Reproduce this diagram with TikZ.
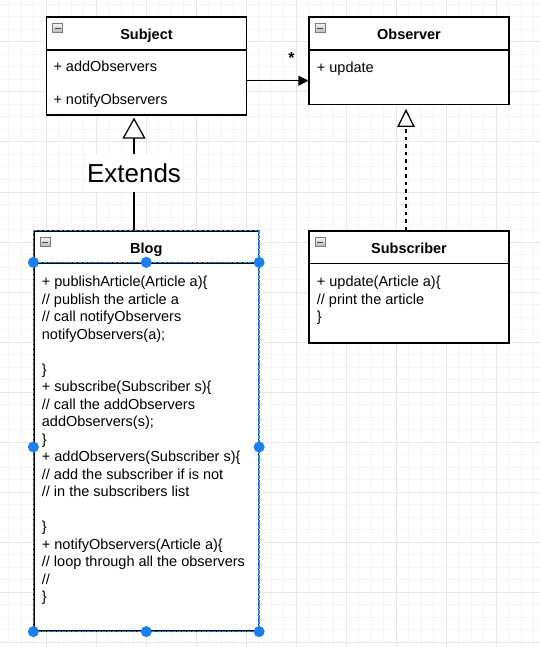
\documentclass[tikz,border=0pt]{standalone}
\usepackage{fontspec}
\setmainfont{Liberation Sans}
\usetikzlibrary{arrows.meta}
\definecolor{gridminor}{HTML}{F5F5F5}
\definecolor{gridmajor}{HTML}{E7E7E7}
\definecolor{selblue}{HTML}{1E90E0}
\definecolor{handleblue}{HTML}{1A80F0}
\definecolor{iconborder}{HTML}{7A7A7A}
\definecolor{icontop}{HTML}{F2F2F2}
\definecolor{iconbottom}{HTML}{B4B4B4}
\definecolor{iconminus}{HTML}{464646}
\tikzset{
  every node/.style={font=\fontsize{14.5}{17.5}\selectfont},
  classbox/.style={draw=black, line width=1.25pt, fill=white, minimum width=200pt, inner sep=0pt},
  headtext/.style={font=\fontsize{14.5}{17.5}\selectfont\bfseries, text height=13pt, text depth=0pt},
  memb/.style={anchor=base west, inner sep=0pt},
  minusicon/.style={draw=iconborder, line width=0.8pt, top color=icontop, bottom color=iconbottom,
    minimum width=10pt, minimum height=9pt, inner sep=0pt,
    path picture={\draw[line width=1.6pt, iconminus] ([xshift=2pt]path picture bounding box.west) -- ([xshift=-2pt]path picture bounding box.east);}},
  conn/.style={line width=1.25pt, draw=black},
  extlabel/.style={fill=white, font=\fontsize{26}{30}\selectfont, inner xsep=1pt, text height=18.7pt, text depth=0pt, minimum height=37pt},
  multlabel/.style={font=\fontsize{16}{18}\selectfont\bfseries, inner sep=0pt},
  selline/.style={draw=selblue, line width=1.7pt, dash pattern=on 3.5pt off 1.5pt},
}
\begin{document}
\begin{tikzpicture}[x=1pt, y=-1pt]
\useasboundingbox (0,0) rectangle (540,647);
\fill[white] (0,0) rectangle (540,647);
% grid
\foreach \x in {8.5,21,...,540} \draw[gridminor, line width=1pt] (\x,0) -- (\x,647);
\foreach \y in {4.5,17,...,647} \draw[gridminor, line width=1pt] (0,\y) -- (540,\y);
\foreach \x in {46,96,...,540} \draw[gridmajor, line width=1pt] (\x,0) -- (\x,647);
\foreach \y in {42,92,...,647} \draw[gridmajor, line width=1pt] (0,\y) -- (540,\y);

% Subject
\node[classbox, headtext, minimum height=33pt] (subjH) at (146.5,33.5) {Subject};
\node[classbox, minimum height=65pt] (subjB) at (146.5,82.5) {};
\node[minusicon] (subjI) at ([xshift=12pt,yshift=-12pt]subjH.north west) {};
\node[memb] (subjM1) at (53.3,72) {+ addObservers};
\node[memb] (subjM2) at (53.3,104.3) {+ notifyObservers};

% Observer
\node[classbox, headtext, minimum height=33pt] (obsH) at (409,33.5) {Observer};
\node[classbox, minimum height=54.5pt] (obsB) at (409,77.25) {};
\node[minusicon] (obsI) at ([xshift=12pt,yshift=-12pt]obsH.north west) {};
\node[memb] (obsM1) at (316.7,72.3) {+ update};

% Blog
\node[classbox, headtext, minimum width=224.5pt, minimum height=32pt] (blogH) at (146.25,247) {Blog};
\node[classbox, minimum width=224.5pt, minimum height=368pt] (blogB) at (146.25,447) {};
\node[minusicon] (blogI) at ([xshift=12pt,yshift=-12pt]blogH.north west) {};
\node[memb] (b0) at (41.7,286.5) {+ publishArticle(Article a)\{};
\node[memb] (b1) at (41.7,304) {// publish the article a};
\node[memb] (b2) at (41.7,321.5) {// call notifyObservers};
\node[memb] (b3) at (41.7,339) {notifyObservers(a);};
\node[memb] (b5) at (41.7,374) {\}};
\node[memb] (b6) at (41.7,391.5) {+ subscribe(Subscriber s)\{};
\node[memb] (b7) at (41.7,409) {// call the addObservers};
\node[memb] (b8) at (41.7,426.5) {addObservers(s);};
\node[memb] (b9) at (41.7,444) {\}};
\node[memb] (b10) at (41.7,461.5) {+ addObservers(Subscriber s)\{};
\node[memb] (b11) at (41.7,479) {// add the subscriber if is not};
\node[memb] (b12) at (41.7,496.5) {// in the subscribers list};
\node[memb] (b14) at (41.7,531.5) {\}};
\node[memb] (b15) at (41.7,549) {+ notifyObservers(Article a)\{};
\node[memb] (b16) at (41.7,566.5) {// loop through all the observers};
\node[memb] (b17) at (41.7,584) {//};
\node[memb] (b18) at (41.7,601.5) {\}};

% Subscriber
\node[classbox, headtext, minimum height=32.5pt] (subsH) at (409,247.25) {Subscriber};
\node[classbox, minimum height=79.5pt] (subsB) at (409,303.25) {};
\node[minusicon] (subsI) at ([xshift=12pt,yshift=-12pt]subsH.north west) {};
\node[memb] (s0) at (316.7,286.5) {+ update(Article a)\{};
\node[memb] (s1) at (316.7,304) {// print the article};
\node[memb] (s2) at (316.7,321.5) {\}};

% connectors
\coordinate (extx) at (134,0);
\coordinate (realx) at (406,0);
\draw[conn, -{Triangle[length=10pt,width=10pt]}] ([yshift=1.8pt]subjB.east) -- ([yshift=1.8pt]subjB.east -| obsB.west);
\node[multlabel] (mult) at (291.5,58) {*};
\draw[conn, -{Triangle[fill=white, length=21pt, width=23pt]}, shorten >=2pt]
  (blogH.north -| extx) -- node[extlabel, midway] (ext) {Extends} (subjB.south -| extx);
\draw[conn, dash pattern=on 3.5pt off 4pt, -{Triangle[fill=white, length=18pt, width=17.5pt]}, shorten >=3.8pt]
  (subsH.north -| realx) -- (obsB.south -| realx);

% selection overlay on Blog
\draw[selline] (blogH.north west) rectangle (blogB.south east);
\draw[selline] (blogB.north west) -- (blogB.north east);
\foreach \a in {north west, north, north east, west, east, south west, south, south east}
  \fill[handleblue] (blogB.\a) circle (5.5pt);
\end{tikzpicture}
\end{document}
